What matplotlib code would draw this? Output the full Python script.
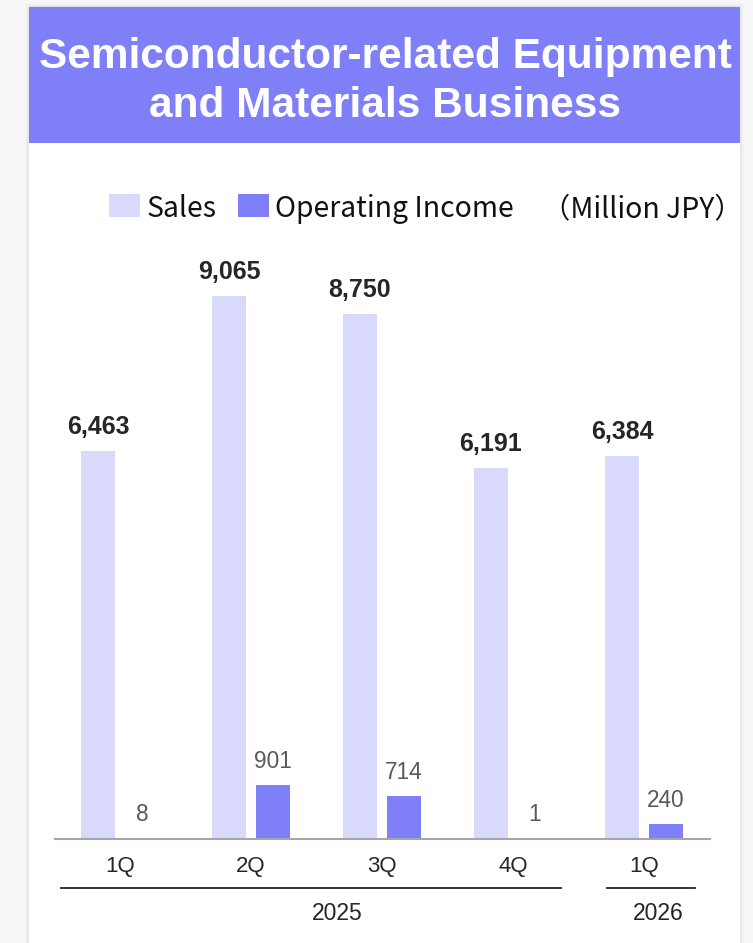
import matplotlib.pyplot as plt
import matplotlib.transforms as mtransforms
from matplotlib.patches import Rectangle
import numpy as np

# data
quarters = ["1Q", "2Q", "3Q", "4Q", "1Q"]
sales = [6463, 9065, 8750, 6191, 6384]
operating_income = [8, 901, 714, 1, 240]
years = ["2025", "2026"]

SALES_COLOR = "#d9d9fb"
OI_COLOR = "#7f7ff7"

W, H = 753, 943
fig = plt.figure(figsize=(W / 100, H / 100), dpi=100)
fig.patch.set_facecolor("#f7f7f7")


def fx(px):
    return px / W


def fy(py):
    return 1 - py / H


# card with a soft shadow
for d, a in [(4, 0.012), (3, 0.015), (2, 0.02), (1, 0.025)]:
    fig.patches.append(Rectangle((fx(29 - d), fy(H + 5)), fx(711 + 2 * d), fy(7 - d) - fy(H + 5),
                                 transform=fig.transFigure, facecolor="black", alpha=a,
                                 edgecolor="none", zorder=0))
fig.patches.append(Rectangle((fx(29), fy(H + 5)), fx(711), fy(7) - fy(H + 5),
                             transform=fig.transFigure, facecolor="white", edgecolor="none", zorder=1))
# title band
fig.patches.append(Rectangle((fx(29), fy(143)), fx(711), fy(7) - fy(143),
                             transform=fig.transFigure, facecolor=OI_COLOR, edgecolor="none", zorder=2))
fig.text(fx(385), fy(57), "Semiconductor-related Equipment", ha="center", va="center",
         color="white", fontsize=30.5, fontweight="bold", family="Liberation Sans", zorder=3)
fig.text(fx(385), fy(106), "and Materials Business", ha="center", va="center",
         color="white", fontsize=30.5, fontweight="bold", family="Liberation Sans", zorder=3)

# legend
legend_font = ["Noto Sans CJK JP", "DejaVu Sans"]
fig.patches.append(Rectangle((fx(109), fy(217)), fx(31), fy(194) - fy(217),
                             transform=fig.transFigure, facecolor=SALES_COLOR, edgecolor="none", zorder=3))
fig.text(fx(147), fy(209), "Sales", ha="left", va="center", fontsize=20.4,
         family=legend_font, color="#111111", zorder=3)
fig.patches.append(Rectangle((fx(238), fy(217)), fx(31), fy(194) - fy(217),
                             transform=fig.transFigure, facecolor=OI_COLOR, edgecolor="none", zorder=3))
fig.text(fx(275), fy(209), "Operating Income", ha="left", va="center", fontsize=20.4,
         family=legend_font, color="#111111", zorder=3)
fig.text(fx(743), fy(209), "（Million JPY）", ha="right", va="center", fontsize=20.4,
         family=legend_font, color="#111111", zorder=3)

# chart axes: baseline at y=838.5px, 0.0599 px per million JPY
ax_left, ax_right = 54.5, 709.5
ax_bottom, ax_top = 838.5, 250
ax = fig.add_axes([fx(ax_left), fy(ax_bottom), fx(ax_right - ax_left), (ax_bottom - ax_top) / H])
ax.set_zorder(4)
ax.patch.set_alpha(0)

x = np.arange(len(quarters))
bw = 0.267
off = 0.168
ax.bar(x - off, sales, width=bw, color=SALES_COLOR, zorder=2)
ax.bar(x + off, operating_income, width=bw, color=OI_COLOR, zorder=2)

for xi, v in zip(x, sales):
    ax.annotate(f"{v:,}", (xi - off, v), xytext=(0, 12.2), textcoords="offset points",
                ha="center", va="baseline", fontsize=18, fontweight="bold",
                family="Liberation Sans", color="#262626")
for xi, v in zip(x, operating_income):
    ax.annotate(f"{v:,}", (xi + off, v), xytext=(0, 12.2), textcoords="offset points",
                ha="center", va="baseline", fontsize=16.3, family="Liberation Sans", color="#595959")

ax.set_xlim(-0.5, 4.5)
ax.set_ylim(0, (ax_bottom - ax_top) / 0.0599)
for s in ["top", "right", "left"]:
    ax.spines[s].set_visible(False)
ax.spines["bottom"].set_color("#a6a6a6")
ax.spines["bottom"].set_linewidth(1.5)
ax.set_yticks([])
ax.set_xticks(x)
ax.set_xticklabels(quarters, family="Liberation Sans", fontsize=16, color="#262626")
ax.tick_params(axis="x", length=0, pad=12.5)

# year grouping
trans = mtransforms.blended_transform_factory(ax.transData, ax.transAxes)
line_y = (ax_bottom - 888) / (ax_bottom - ax_top)
label_y = (ax_bottom - 914) / (ax_bottom - ax_top)
year_spans = [(-0.45, 3.37), (3.72, 4.39)]
year_label_x = [1.66, 4.11]
for (x0, x1), lx, yr in zip(year_spans, year_label_x, years):
    ax.plot([x0, x1], [line_y, line_y], transform=trans, color="#222222", lw=1.3, clip_on=False)
    ax.text(lx, label_y, yr, transform=trans, ha="center", va="center", fontsize=16.5,
            family="Liberation Sans", color="#262626", clip_on=False)

fig.savefig("out.png", dpi=100, facecolor=fig.get_facecolor())
